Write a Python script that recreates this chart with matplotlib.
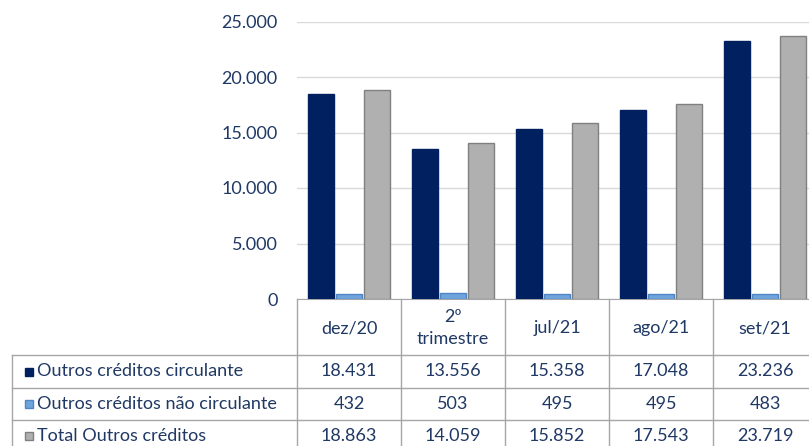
import matplotlib

matplotlib.use('Agg')
import matplotlib.pyplot as plt
import numpy as np

# --- data ---
categories = ['dez/20', '2º\ntrimestre', 'jul/21', 'ago/21', 'set/21']
series_names = ['Outros créditos circulante',
                'Outros créditos não circulante',
                'Total Outros créditos']
circulante = [18431, 13556, 15358, 17048, 23236]
nao_circulante = [432, 503, 495, 495, 483]
total = [18863, 14059, 15852, 17543, 23719]
y_ticks = [0, 5000, 10000, 15000, 20000, 25000]

fills = ['#002060', '#6fa3dc', '#b0b0b0']
edges = ['#002060', '#4f86c6', '#808080']
text_col = '#1f3864'
grid_col = '#a6a6a6'
FS = 13


def fmt(v):
    return '{:,}'.format(v).replace(',', '.')


plt.rcParams['font.family'] = ['Lato', 'DejaVu Sans']

W, H = 809, 446
fig = plt.figure(figsize=(W / 100, H / 100), dpi=100)

# plot area in pixel coords (it runs past the right edge, as in the crop)
x0, x1 = 297, 817
y_top, y_zero = 21.5, 299
ax = fig.add_axes([x0 / W, 1 - y_zero / H, (x1 - x0) / W, (y_zero - y_top) / H])

n = len(categories)
x = np.arange(n)
bw = 0.265
for i, vals in enumerate([circulante, nao_circulante, total]):
    ax.bar(x + (i - 1) * bw, vals, width=bw - 0.015, color=fills[i],
           edgecolor=edges[i], linewidth=1, zorder=3)

ax.set_xlim(-0.5, n - 0.5)
ax.set_ylim(0, 25000)
ax.set_yticks(y_ticks)
ax.set_yticklabels([fmt(v) for v in y_ticks], color=text_col, fontsize=FS)
ax.tick_params(axis='y', length=0, pad=14)
ax.set_xticks([])
ax.grid(True, axis='y', color='#d9d9d9', linewidth=1, zorder=0)
for s in ('top', 'right', 'left'):
    ax.spines[s].set_visible(False)
ax.spines['bottom'].set_color(grid_col)

# --- data table below the plot, drawn in pixel coords ---
def px(xp, yp):
    return xp / W, 1 - yp / H


col_w = (x1 - x0) / n
tab_left = 12
row_y = [299, 355, 388, 420, 452]
line_kw = dict(color=grid_col, linewidth=1, transform=fig.transFigure, clip_on=False)

# vertical borders of the category columns
for k in range(n + 1):
    xx = x0 + k * col_w
    fig.add_artist(plt.Line2D([xx / W] * 2, [px(0, row_y[0])[1], px(0, row_y[-1])[1]], **line_kw))
# left border of legend column
fig.add_artist(plt.Line2D([tab_left / W] * 2, [px(0, row_y[1])[1], px(0, row_y[-1])[1]], **line_kw))
# horizontal borders
for r in row_y[1:]:
    fig.add_artist(plt.Line2D([tab_left / W, x1 / W], [px(0, r)[1]] * 2, **line_kw))

# header row
for k, cat in enumerate(categories):
    cx = x0 + (k + 0.5) * col_w
    fig.text(*px(cx, (row_y[0] + row_y[1]) / 2 + 1), cat, ha='center', va='center',
             color=text_col, fontsize=FS, linespacing=1.5)

# data rows
for r, (name, vals) in enumerate(zip(series_names, [circulante, nao_circulante, total])):
    cy = (row_y[r + 1] + row_y[r + 2]) / 2
    key = plt.Rectangle(px(25, cy + 4), 8 / W, 8 / H, transform=fig.transFigure,
                        facecolor=fills[r], edgecolor=edges[r], linewidth=1)
    fig.add_artist(key)
    fig.text(*px(37, cy), name, ha='left', va='center', color=text_col, fontsize=FS)
    for k, v in enumerate(vals):
        cx = x0 + (k + 0.5) * col_w
        fig.text(*px(cx, cy), fmt(v), ha='center', va='center', color=text_col, fontsize=FS)

fig.savefig('out.png', dpi=100)
